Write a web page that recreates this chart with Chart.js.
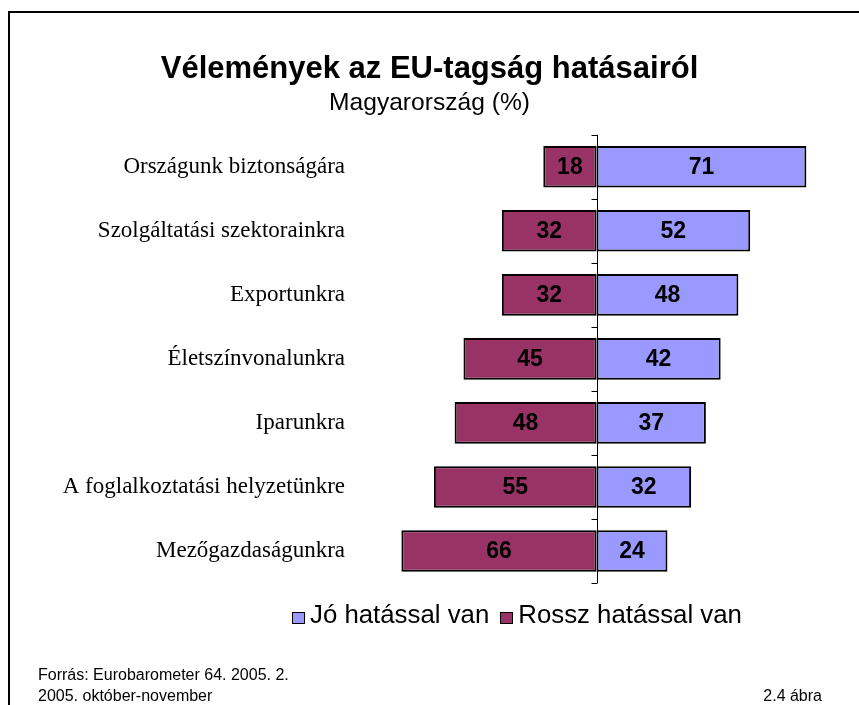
<!DOCTYPE html>
<html>
<head>
<meta charset="utf-8">
<script src="https://cdn.jsdelivr.net/npm/chart.js@4/dist/chart.umd.min.js"></script>
<style>
body { margin: 0; background: #fff; overflow: hidden; font-family: Arial, 'Liberation Sans', sans-serif; }
#wrap { position: absolute; left: 0; top: 0; width: 859px; height: 705px; }
#frame { position: absolute; left: 8px; top: 11px; width: 900px; height: 800px; border-left: 2px solid #000; border-top: 2px solid #000; }
#legend { position: absolute; left: 292px; top: 600px; font-size: 25.8px; color: #000; white-space: nowrap; }
#legend span.item { margin-right: 11px; }
#legend span.box { display: inline-block; width: 11px; height: 10px; border: 1.5px solid #000; margin-right: 5px; vertical-align: -1px; }
.foot { position: absolute; font-size: 16px; color: #000; white-space: nowrap; }
</style>
</head>
<body>
<div id="wrap">
  <div id="frame"></div>
  <canvas id="chart" width="859" height="705"></canvas>
  <div id="legend"></div>
  <div class="foot" style="left:38px; top:666px;">Forrás: Eurobarometer 64. 2005. 2.</div>
  <div class="foot" style="left:38px; top:687px;">2005. október-november</div>
  <div class="foot" style="right:37px; top:687px;">2.4 ábra</div>
</div>
<script>
// adatok
const categories = ['Országunk biztonságára', 'Szolgáltatási szektorainkra', 'Exportunkra',
  'Életszínvonalunkra', 'Iparunkra', 'A foglalkoztatási helyzetünkre', 'Mezőgazdaságunkra'];
const joValues = [71, 52, 48, 42, 37, 32, 24];
const rosszValues = [18, 32, 32, 45, 48, 55, 66];
const seriesNames = ['Jó hatással van', 'Rossz hatással van'];
const seriesColors = ['#9999FF', '#993366'];

// value labels in the middle of each bar
const barLabels = {
  id: 'barLabels',
  afterDatasetsDraw(chart) {
    const ctx = chart.ctx;
    ctx.save();
    ctx.font = 'bold 23px Arial, "Liberation Sans", sans-serif';
    ctx.fillStyle = '#000';
    ctx.textAlign = 'center';
    ctx.textBaseline = 'middle';
    chart.data.datasets.forEach((ds, i) => {
      chart.getDatasetMeta(i).data.forEach((bar, j) => {
        const v = Math.abs(ds.data[j]);
        ctx.fillText(String(v), (bar.x + bar.base) / 2, bar.y + 1);
      });
    });
    ctx.restore();
  }
};

// vertical axis at zero with tick marks between categories
const zeroAxis = {
  id: 'zeroAxis',
  afterDatasetsDraw(chart) {
    const ctx = chart.ctx;
    const xs = chart.scales.x, ys = chart.scales.y;
    const x0 = Math.round(xs.getPixelForValue(0)) + 0.5;
    const step = ys.getPixelForValue(1) - ys.getPixelForValue(0);
    const first = ys.getPixelForValue(0) - step / 2;
    ctx.save();
    ctx.strokeStyle = '#000';
    ctx.lineWidth = 1;
    ctx.beginPath();
    ctx.moveTo(x0, chart.chartArea.top);
    ctx.lineTo(x0, chart.chartArea.bottom);
    for (let i = 0; i <= categories.length; i++) {
      const y = Math.round(first + i * step) + 0.5;
      ctx.moveTo(x0 - 6, y);
      ctx.lineTo(x0, y);
    }
    ctx.stroke();
    ctx.restore();
  }
};

const chart = new Chart(document.getElementById('chart'), {
  type: 'bar',
  data: {
    labels: categories,
    datasets: [{
      label: seriesNames[0],
      data: joValues,
      backgroundColor: seriesColors[0],
      borderColor: '#000',
      borderWidth: 2,
      borderSkipped: false
    }, {
      label: seriesNames[1],
      data: rosszValues.map(v => -v),
      backgroundColor: seriesColors[1],
      borderColor: '#000',
      borderWidth: 2,
      borderSkipped: false
    }]
  },
  options: {
    indexAxis: 'y',
    responsive: false,
    animation: false,
    layout: { padding: { left: 26, right: 26, top: 0, bottom: 122 } },
    datasets: { bar: { categoryPercentage: 1, barPercentage: 0.65 } },
    scales: {
      x: { stacked: true, min: -80, max: 80, display: false },
      y: {
        stacked: true,
        grid: { display: false, drawTicks: false },
        border: { display: false },
        ticks: {
          padding: 15,
          color: '#000',
          font: { family: '"Times New Roman", "Liberation Serif", serif', size: 23 }
        },
        afterFit(scale) { scale.width = 334; }
      }
    },
    plugins: {
      legend: { display: false },
      tooltip: { enabled: false },
      title: {
        display: true,
        text: 'Vélemények az EU-tagság hatásairól',
        color: '#000',
        font: { family: 'Arial, "Liberation Sans", sans-serif', size: 31, weight: 'bold' },
        padding: { top: 51, bottom: 0 }
      },
      subtitle: {
        display: true,
        text: 'Magyarország (%)',
        color: '#000',
        font: { family: 'Arial, "Liberation Sans", sans-serif', size: 24.6 },
        padding: { top: 0, bottom: 17 }
      }
    }
  },
  plugins: [barLabels, zeroAxis]
});

// legend built from the datasets
const legendBox = document.getElementById('legend');
chart.data.datasets.forEach(ds => {
  const item = document.createElement('span');
  item.className = 'item';
  const box = document.createElement('span');
  box.className = 'box';
  box.style.background = ds.backgroundColor;
  item.appendChild(box);
  item.appendChild(document.createTextNode(ds.label));
  legendBox.appendChild(item);
});
</script>
</body>
</html>
